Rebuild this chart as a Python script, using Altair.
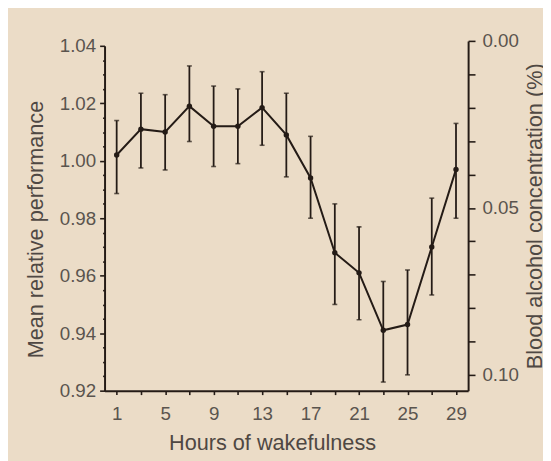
import altair as alt
import pandas as pd

# ---- data ----
hours = [1, 3, 5, 7, 9, 11, 13, 15, 17, 19, 21, 23, 25, 27, 29]
mean_perf = [1.002, 1.011, 1.010, 1.019, 1.012, 1.012, 1.0185, 1.009, 0.994,
             0.968, 0.961, 0.941, 0.943, 0.970, 0.997]
upper_err = [1.014, 1.0235, 1.023, 1.033, 1.026, 1.025, 1.031, 1.0235, 1.0085,
             0.985, 0.977, 0.958, 0.962, 0.987, 1.013]
lower_err = [0.9886, 0.9975, 0.9968, 1.0067, 0.998, 0.999, 1.0054, 0.9944, 0.980,
             0.950, 0.9447, 0.923, 0.9255, 0.9533, 0.980]

x_ticks = [1, 3, 5, 7, 9, 11, 13, 15, 17, 19, 21, 23, 25, 27, 29]
y_ticks = [round(0.92 + 0.005 * i, 3) for i in range(25)]
bac_ticks = [round(0.01 * i, 2) for i in range(11)]

df = pd.DataFrame({"hour": hours, "mean": mean_perf, "upper": upper_err, "lower": lower_err})
bac_df = pd.DataFrame({"bac": [0.0, 0.10]})

DARK = "#241b16"
LABEL = "#5a544e"
TITLE = "#4f4843"
BG = "#ebdcc7"
FONT = "Liberation Sans"

xscale = alt.Scale(domain=[0, 30], nice=False, zero=False)
yscale = alt.Scale(domain=[0.92, 1.04], nice=False, zero=False)

xaxis = alt.Axis(
    values=x_ticks,
    labelExpr="(datum.value - 1) % 4 == 0 ? datum.value : ''",
    title="Hours of wakefulness",
    titleX=170,
    tickSize=4, labelPadding=10, titlePadding=10,
    grid=False,
)
yaxis = alt.Axis(
    values=y_ticks,
    labelExpr="abs(datum.value * 50 - round(datum.value * 50)) < 0.001 ? format(datum.value, '.2f') : ''",
    tickSize={"condition": {"test": "abs(datum.value * 50 - round(datum.value * 50)) < 0.001", "value": 5}, "value": 2},
    labelPadding=4,
    title="Mean relative performance",
    titleY=186,
    titlePadding=12,
    grid=False,
)

X = alt.X("hour:Q", scale=xscale, axis=xaxis)

rules = alt.Chart(df).mark_rule(color=DARK, strokeWidth=1.8).encode(
    x=X, y=alt.Y("lower:Q", scale=yscale, axis=yaxis), y2="upper:Q")
cap_top = alt.Chart(df).mark_tick(color=DARK, orient="horizontal", size=5, thickness=1.6).encode(
    x=X, y=alt.Y("upper:Q", scale=yscale, axis=yaxis))
cap_bot = alt.Chart(df).mark_tick(color=DARK, orient="horizontal", size=5, thickness=1.6).encode(
    x=X, y=alt.Y("lower:Q", scale=yscale, axis=yaxis))
line = alt.Chart(df).mark_line(color=DARK, strokeWidth=2).encode(
    x=X, y=alt.Y("mean:Q", scale=yscale, axis=yaxis))
pts = alt.Chart(df).mark_circle(color=DARK, size=30, opacity=1).encode(
    x=X, y=alt.Y("mean:Q", scale=yscale, axis=yaxis))

left = alt.layer(rules, cap_top, cap_bot, line, pts)

right = alt.Chart(bac_df).mark_point(opacity=0).encode(
    y=alt.Y("bac:Q",
            scale=alt.Scale(domain=[0.0, 0.1047], range=[-5, 350], nice=False, zero=False),
            axis=alt.Axis(
                orient="right",
                values=bac_ticks,
                labelExpr="abs(datum.value * 20 - round(datum.value * 20)) < 0.001 ? format(datum.value, '.2f') : ''",
                tickSize=7, labelPadding=7,
                title="Blood alcohol concentration (%)",
                titleAngle=270, titleBaseline="top",
                titlePadding=7,
                grid=False,
            ))
)

chart = alt.layer(left, right).resolve_scale(y="independent").properties(
    width=369, height=350,
    autosize="none",
    padding={"left": 98, "top": 35, "right": 76, "bottom": 68},
    background=BG,
).configure_view(
    strokeWidth=0,
).configure_axis(
    domainColor=DARK, domainWidth=2,
    tickColor=DARK, tickWidth=1.6,
    labelFont=FONT, labelFontSize=19, labelColor=LABEL,
    titleFont=FONT, titleFontSize=22, titleColor=TITLE, titleFontWeight="normal",
)

chart.save("out.html", embed_options={"renderer": "svg", "actions": False})
